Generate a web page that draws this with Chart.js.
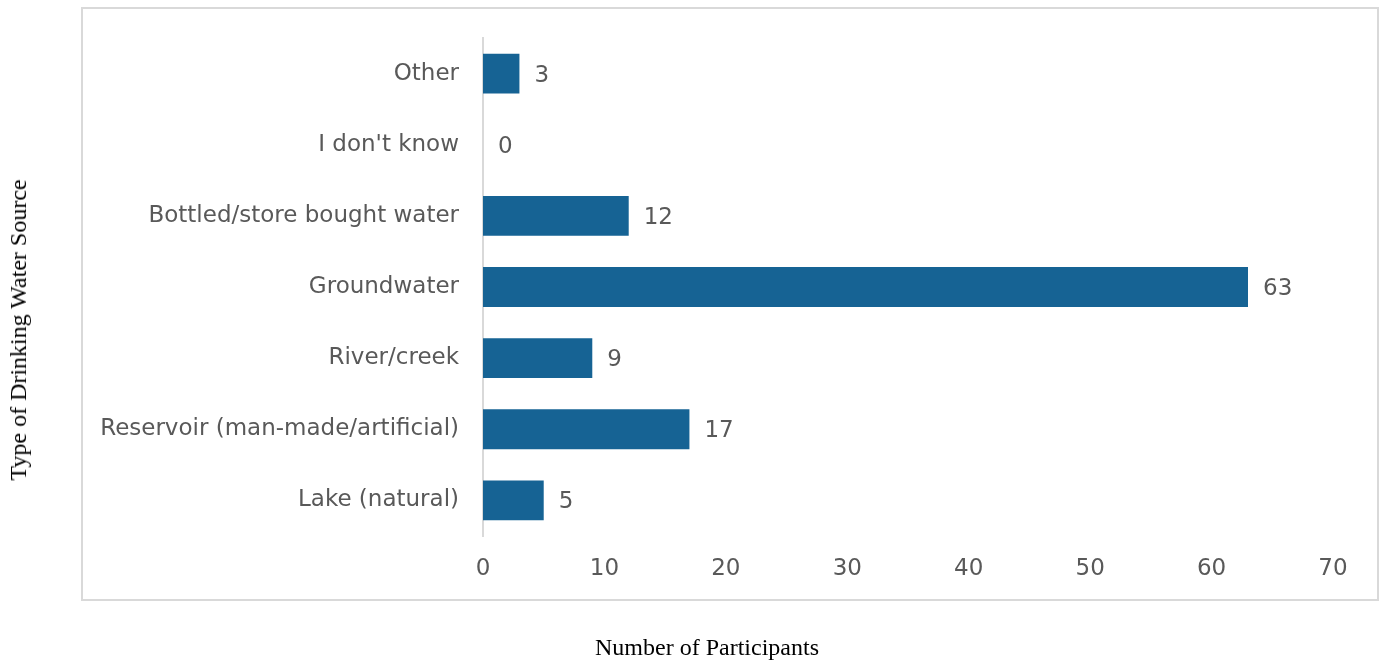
<!DOCTYPE html>
<html>
<head>
<meta charset="utf-8">
<script src="https://cdn.jsdelivr.net/npm/chart.js@4"></script>
<style>
  html, body { margin: 0; padding: 0; background: #fff; }
  #wrap { position: relative; width: 1379px; height: 661px; overflow: hidden; }
  #box { position: absolute; left: 81px; top: 7px; width: 1294px; height: 590px; border: 2px solid #d9d9d9; }
  #waterChart { position: absolute; left: 0; top: 0; }
  .axis-title { position: absolute; font-family: 'Liberation Serif', 'Times New Roman', serif; font-size: 24px; color: #000; white-space: nowrap; line-height: 1; }
  #xTitle { left: 707px; top: 635px; transform: translateX(-50%); }
  #yTitle { left: 18px; top: 330px; transform: translate(-50%, -50%) rotate(-90deg); }
</style>
</head>
<body>
<div id="wrap">
  <div id="box"></div>
  <canvas id="waterChart" width="1379" height="661"></canvas>
  <div class="axis-title" id="xTitle">Number of Participants</div>
  <div class="axis-title" id="yTitle">Type of Drinking Water Source</div>
</div>
<script>
const sources = ["Other", "I don't know", "Bottled/store bought water", "Groundwater",
  "River/creek", "Reservoir (man-made/artificial)", "Lake (natural)"];
const participants = [3, 0, 12, 63, 9, 17, 5];
const xTicks = [0, 10, 20, 30, 40, 50, 60, 70];

const tickFont = { family: "'Century Gothic', 'DejaVu Sans', sans-serif", size: 23 };

// value labels to the right of each bar
const barValues = {
  id: "barValues",
  afterDatasetsDraw(chart) {
    const ctx = chart.ctx;
    const meta = chart.getDatasetMeta(0);
    ctx.save();
    ctx.font = tickFont.size + "px " + tickFont.family;
    ctx.fillStyle = "#595959";
    ctx.textAlign = "left";
    ctx.textBaseline = "middle";
    meta.data.forEach((bar, i) => {
      ctx.fillText(participants[i], bar.x + 15, bar.y + 2);
    });
    ctx.restore();
  }
};

new Chart("waterChart", {
  type: "bar",
  data: {
    labels: sources,
    datasets: [{
      data: participants,
      backgroundColor: "#166394",
      barPercentage: 0.56,
      categoryPercentage: 1
    }]
  },
  plugins: [barValues],
  options: {
    indexAxis: "y",
    responsive: false,
    animation: false,
    layout: { padding: { top: 38, right: 46, left: 0, bottom: 0 } },
    plugins: { legend: { display: false }, tooltip: { enabled: false } },
    scales: {
      x: {
        min: 0,
        max: 70,
        afterBuildTicks(scale) { scale.ticks = xTicks.map(v => ({ value: v })); },
        grid: { display: false },
        border: { display: false },
        ticks: { color: "#595959", font: tickFont, padding: 11 },
        afterFit(scale) { scale.height = 125; }
      },
      y: {
        grid: { display: false },
        border: { display: true, color: "#d9d9d9", width: 2 },
        ticks: { color: "#595959", font: tickFont, padding: 16 },
        afterFit(scale) { scale.width = 483; }
      }
    }
  }
});
</script>
</body>
</html>
